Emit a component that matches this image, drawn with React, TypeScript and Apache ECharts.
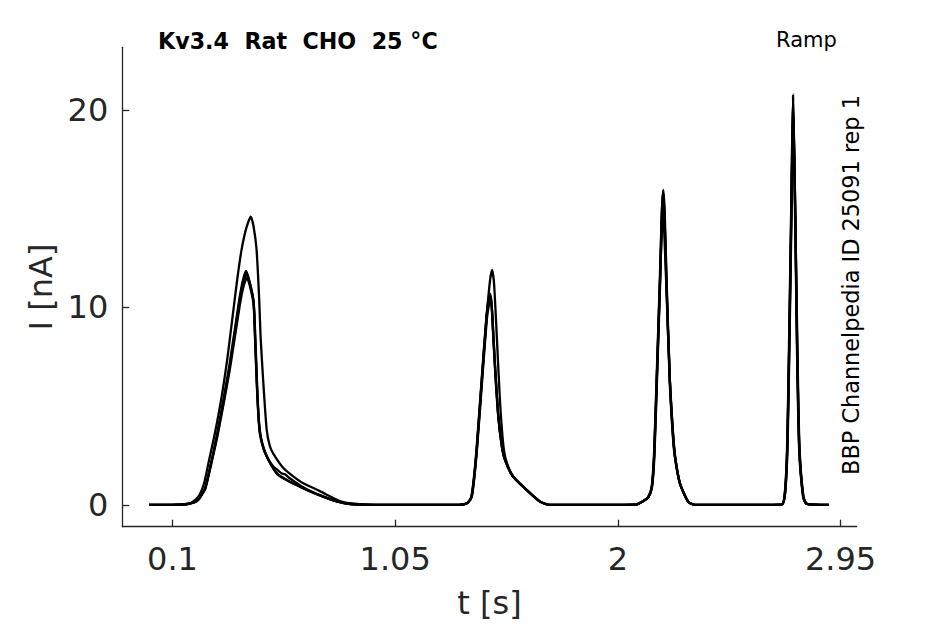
import React, { useEffect, useRef } from "react";
import * as echarts from "echarts";

const xTicks = [0.1, 1.05, 2, 2.95];
const yTicks = [0, 10, 20];

const traceA: [number, number][] = [
  [0, 0], [0.13, 0.01], [0.17, 0.06], [0.196, 0.25], [0.215, 0.5], [0.235, 1.1], [0.255, 2.2],
  [0.281, 3.63], [0.31, 5.5], [0.334, 7.4], [0.355, 9.4], [0.375, 11.3], [0.393, 12.8],
  [0.41, 13.8], [0.424, 14.35], [0.434, 14.6], [0.446, 14.1], [0.459, 12.9], [0.47, 10.4],
  [0.476, 8.5], [0.487, 6.3], [0.502, 3.8], [0.515, 3.0], [0.53, 2.6], [0.573, 1.87],
  [0.615, 1.45], [0.658, 1.1], [0.729, 0.7], [0.815, 0.2], [0.887, 0.05], [1.0, 0], [1.3, 0],
  [1.341, 0.03], [1.36, 0.12], [1.376, 0.42], [1.387, 1.4], [1.398, 2.8], [1.419, 6.2],
  [1.44, 9.5], [1.455, 11.4], [1.464, 11.9], [1.472, 11.2], [1.483, 8.7], [1.497, 5.3],
  [1.51, 3.2], [1.519, 2.45], [1.535, 1.85], [1.554, 1.43], [1.611, 0.76], [1.668, 0.17],
  [1.711, 0], [2.077, 0.02], [2.109, 0.2], [2.13, 0.4], [2.145, 0.9], [2.155, 2.5],
  [2.166, 6.3], [2.18, 11.4], [2.188, 14.8], [2.194, 15.95], [2.2, 14.8], [2.208, 11.4],
  [2.222, 6.3], [2.235, 3.6], [2.244, 2.45], [2.265, 1.1], [2.3, 0.17], [2.329, 0],
  [2.699, 0.02], [2.713, 0.6], [2.723, 2.95], [2.731, 8.0], [2.74, 14.8], [2.748, 20.8],
  [2.757, 14.8], [2.765, 8.0], [2.774, 2.95], [2.791, 0.42], [2.806, 0.05], [2.9, 0],
];

const traceB: [number, number][] = [
  [0, 0], [0.132, 0.02], [0.175, 0.08], [0.203, 0.2], [0.22, 0.45], [0.239, 0.85], [0.262, 2.0],
  [0.291, 3.63], [0.342, 7.0], [0.385, 10.4], [0.401, 11.4], [0.414, 11.85], [0.427, 11.4],
  [0.445, 10.4], [0.452, 8.5], [0.459, 6.3], [0.466, 4.6], [0.473, 3.6], [0.487, 2.9],
  [0.502, 2.45], [0.52, 2.05], [0.545, 1.6], [0.59, 1.25], [0.644, 0.93], [0.7, 0.62],
  [0.743, 0.42], [0.8, 0.18], [0.857, 0.05], [0.95, 0], [1.3, 0], [1.341, 0.03], [1.36, 0.12],
  [1.376, 0.42], [1.387, 1.4], [1.398, 2.8], [1.419, 6.2], [1.44, 9.5], [1.45, 10.4],
  [1.456, 10.6], [1.462, 10.1], [1.47, 8.3], [1.478, 6.6], [1.49, 4.5], [1.505, 3.0],
  [1.518, 2.3], [1.552, 1.45], [1.611, 0.76], [1.668, 0.17], [1.711, 0], [2.077, 0.02],
  [2.109, 0.2], [2.13, 0.4], [2.145, 0.9], [2.155, 2.5], [2.166, 6.3], [2.18, 11.4],
  [2.187, 13.8], [2.192, 14.7], [2.198, 13.8], [2.207, 11.0], [2.222, 6.3], [2.235, 3.6],
  [2.244, 2.45], [2.265, 1.1], [2.3, 0.17], [2.329, 0], [2.699, 0.02], [2.713, 0.6],
  [2.723, 2.95], [2.731, 8.0], [2.74, 14.6], [2.748, 20.3], [2.757, 14.6], [2.765, 8.0],
  [2.774, 2.95], [2.791, 0.42], [2.806, 0.05], [2.9, 0],
];

const traceC: [number, number][] = [
  [0, 0], [0.13, 0.02], [0.175, 0.07], [0.204, 0.2], [0.221, 0.45], [0.24, 0.85], [0.263, 2.0],
  [0.292, 3.6], [0.343, 6.9], [0.386, 10.3], [0.403, 11.3], [0.416, 11.7], [0.428, 11.3],
  [0.446, 10.3], [0.453, 8.4], [0.46, 6.2], [0.467, 4.5], [0.475, 3.55], [0.49, 2.85],
  [0.505, 2.4], [0.53, 1.95], [0.55, 1.75], [0.565, 1.6], [0.58, 1.55], [0.6, 1.35],
  [0.65, 0.95], [0.7, 0.64], [0.745, 0.43], [0.8, 0.19], [0.86, 0.05], [0.95, 0], [1.3, 0],
  [1.342, 0.03], [1.361, 0.12], [1.377, 0.42], [1.388, 1.4], [1.399, 2.8], [1.42, 6.1],
  [1.441, 9.4], [1.451, 10.2], [1.457, 10.4], [1.463, 9.9], [1.471, 8.2], [1.479, 6.5],
  [1.491, 4.4], [1.506, 2.95], [1.52, 2.25], [1.555, 1.42], [1.612, 0.75], [1.67, 0.16],
  [1.712, 0], [2.078, 0.02], [2.11, 0.2], [2.131, 0.4], [2.146, 0.9], [2.156, 2.5],
  [2.167, 6.3], [2.181, 11.4], [2.188, 14.6], [2.193, 15.8], [2.199, 14.6], [2.207, 11.4],
  [2.222, 6.3], [2.236, 3.6], [2.245, 2.4], [2.266, 1.05], [2.301, 0.16], [2.33, 0],
  [2.7, 0.02], [2.714, 0.6], [2.724, 2.95], [2.732, 8.0], [2.741, 14.7], [2.748, 20.6],
  [2.757, 14.7], [2.766, 8.0], [2.775, 2.95], [2.792, 0.42], [2.807, 0.05], [2.9, 0],
];

const traceD: [number, number][] = [
  [0, 0], [0.131, 0.02], [0.176, 0.08], [0.205, 0.2], [0.222, 0.45], [0.241, 0.85], [0.264, 2.0],
  [0.293, 3.55], [0.344, 6.8], [0.387, 10.1], [0.404, 11.1], [0.418, 11.5], [0.43, 11.1],
  [0.447, 10.1], [0.454, 8.3], [0.461, 6.1], [0.468, 4.4], [0.476, 3.5], [0.49, 2.8],
  [0.505, 2.4], [0.522, 2.0], [0.548, 1.55], [0.595, 1.2], [0.648, 0.9], [0.705, 0.6],
  [0.748, 0.4], [0.805, 0.17], [0.86, 0.04], [0.95, 0], [1.3, 0], [1.34, 0.03], [1.36, 0.12],
  [1.375, 0.42], [1.386, 1.4], [1.397, 2.8], [1.418, 6.2], [1.439, 9.5], [1.449, 10.5],
  [1.455, 10.7], [1.461, 10.2], [1.469, 8.4], [1.477, 6.7], [1.489, 4.6], [1.504, 3.05],
  [1.517, 2.35], [1.55, 1.48], [1.61, 0.77], [1.667, 0.17], [1.71, 0], [2.076, 0.02],
  [2.108, 0.2], [2.129, 0.4], [2.144, 0.9], [2.154, 2.5], [2.165, 6.3], [2.179, 11.4],
  [2.187, 14.7], [2.193, 15.9], [2.199, 14.7], [2.207, 11.4], [2.221, 6.3], [2.234, 3.6],
  [2.243, 2.45], [2.264, 1.1], [2.299, 0.17], [2.328, 0], [2.698, 0.02], [2.712, 0.6],
  [2.722, 2.95], [2.73, 8.0], [2.739, 14.7], [2.747, 20.7], [2.756, 14.7], [2.764, 8.0],
  [2.773, 2.95], [2.79, 0.42], [2.805, 0.05], [2.9, 0],
];

const traces = [traceA, traceB, traceC, traceD];

const FONT = '"DejaVu Sans", sans-serif';
const AXIS_COLOR = "#262626";

export default function App() {
  const ref = useRef<HTMLDivElement>(null);

  useEffect(() => {
    if (!ref.current) return;
    const chart = echarts.init(ref.current, null, { renderer: "svg" });
    chart.setOption({
      animation: false,
      backgroundColor: "#ffffff",
      grid: { left: 122.3, right: 88.3, top: 47.3, bottom: 97.3, containLabel: false },
      xAxis: {
        type: "value",
        min: -0.114,
        max: 3.019,
        name: "t [s]",
        nameLocation: "middle",
        nameGap: 60,
        nameTextStyle: { fontFamily: FONT, fontSize: 32, color: AXIS_COLOR },
        axisLine: { onZero: false, lineStyle: { color: AXIS_COLOR, width: 1.3 } },
        axisTick: { inside: true, length: 7, customValues: xTicks, lineStyle: { color: AXIS_COLOR, width: 1.3 } },
        axisLabel: {
          customValues: xTicks,
          margin: 16,
          fontFamily: FONT,
          fontSize: 32,
          color: AXIS_COLOR,
          formatter: (v: number) => String(v),
        },
        splitLine: { show: false },
      },
      yAxis: {
        type: "value",
        min: -1.1,
        max: 23.17,
        name: "I [nA]",
        nameLocation: "middle",
        nameGap: 62,
        nameTextStyle: { fontFamily: FONT, fontSize: 32, color: AXIS_COLOR },
        axisLine: { show: true, onZero: false, lineStyle: { color: AXIS_COLOR, width: 1.3 } },
        axisTick: { show: true, inside: true, length: 7, customValues: yTicks, lineStyle: { color: AXIS_COLOR, width: 1.3 } },
        axisLabel: {
          customValues: yTicks,
          margin: 14,
          fontFamily: FONT,
          fontSize: 32,
          color: AXIS_COLOR,
          formatter: (v: number) => String(v),
        },
        splitLine: { show: false },
      },
      graphic: [
        {
          type: "text",
          x: 158,
          y: 40.5,
          style: {
            text: "Kv3.4  Rat  CHO  25 °C",
            font: `bold 22.2px ${FONT}`,
            fill: "#000",
            textAlign: "left",
            textVerticalAlign: "middle",
          },
        },
        {
          type: "text",
          x: 776,
          y: 39.5,
          style: {
            text: "Ramp",
            font: `21px ${FONT}`,
            fill: "#000",
            textAlign: "left",
            textVerticalAlign: "middle",
          },
        },
        {
          type: "text",
          x: 851,
          y: 285,
          rotation: Math.PI / 2,
          style: {
            text: "BBP Channelpedia ID 25091 rep 1",
            font: `22.4px ${FONT}`,
            fill: "#000",
            textAlign: "center",
            textVerticalAlign: "middle",
          },
        },
      ],
      series: traces.map((t, i) => ({
        type: "line",
        name: "trace" + (i + 1),
        data: t,
        showSymbol: false,
        symbol: "none",
        smooth: 0.2,
        lineStyle: { color: "#000", width: 2.3 },
        silent: true,
      })),
    });
    return () => chart.dispose();
  }, []);

  return (
    <div
      ref={ref}
      style={{ position: "fixed", left: 0, top: 0, width: 945, height: 624, background: "#fff" }}
    />
  );
}
